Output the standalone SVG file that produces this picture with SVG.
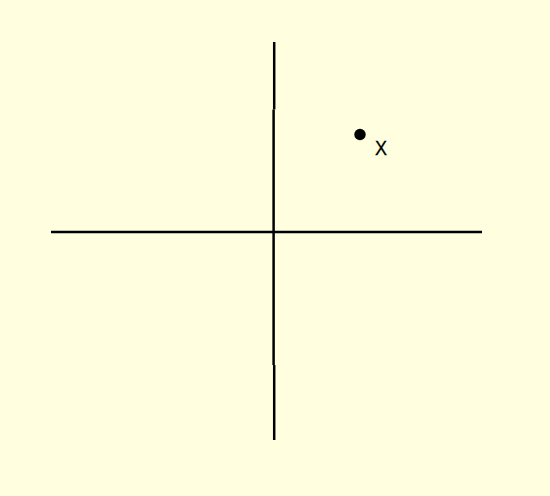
<svg xmlns="http://www.w3.org/2000/svg" width="550" height="496" viewBox="0 0 550 496">
  <style>
    .axis { stroke: #000000; stroke-width: 2.5; fill: none; }
    .label { font-family: "Liberation Sans", Arial, sans-serif; font-size: 19.5px; fill: #000000; stroke: #000000; stroke-width: 0.3; }
  </style>
  <rect x="0" y="0" width="550" height="496" fill="#FFFFE0"/>
  <g id="connectors">
    <line class="axis" x1="51" y1="232" x2="482" y2="232"/>
    <line class="axis" x1="274.2" y1="42" x2="274.2" y2="109.5"/>
    <line class="axis" x1="273.6" y1="109.5" x2="273.6" y2="365"/>
    <line class="axis" x1="274.2" y1="365" x2="274.2" y2="440"/>
  </g>
  <g id="point-x">
    <circle cx="360" cy="134.5" r="5.7" fill="#000000"/>
    <text class="label" x="375" y="154.5" font-size="19.5" textLength="12" lengthAdjust="spacingAndGlyphs">X</text>
  </g>
</svg>
